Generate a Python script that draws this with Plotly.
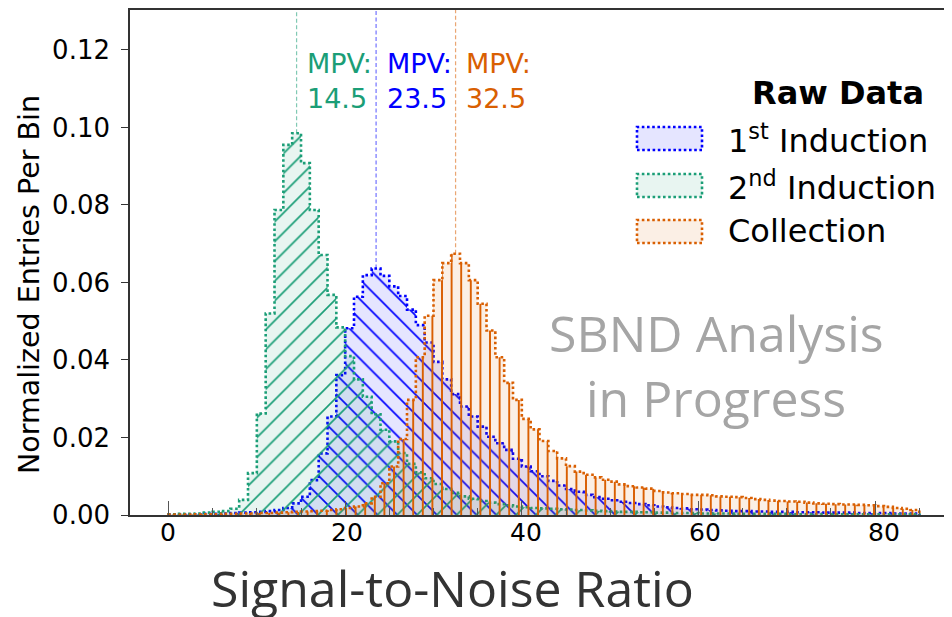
import plotly.graph_objects as go

# ---------------- data ----------------
bin_edges = list(range(0, 86))  # unit-width bins, 0..85

first_induction = [
    0.0001, 0.0001, 0.0002, 0.0002, 0.0003, 0.0003, 0.0004, 0.0005, 0.0006, 0.0007,
    0.0008, 0.0010, 0.0013, 0.0018, 0.0030, 0.0047, 0.0090, 0.0159, 0.0254, 0.0361,
    0.0482, 0.0563, 0.0619, 0.0636, 0.0617, 0.0590, 0.0565, 0.0530, 0.0490, 0.0445,
    0.0395, 0.0350, 0.0312, 0.0280, 0.0254, 0.0228, 0.0202, 0.0185, 0.0168, 0.0145,
    0.0125, 0.0113, 0.0100, 0.0088, 0.0076, 0.0067, 0.0060, 0.0052, 0.0046, 0.0042,
    0.0038, 0.0034, 0.0031, 0.0028, 0.0025, 0.0022, 0.0020, 0.0018, 0.0017, 0.0015,
    0.0014, 0.0013, 0.0012, 0.0011, 0.0010, 0.0010, 0.0009, 0.0009, 0.0008, 0.0008,
    0.0008, 0.0007, 0.0007, 0.0007, 0.0006, 0.0006, 0.0006, 0.0006, 0.0005, 0.0005,
    0.0005, 0.0005, 0.0004, 0.0004, 0.0004,
]

second_induction = [
    0.0002, 0.0003, 0.0003, 0.0004, 0.0006, 0.0008, 0.0010, 0.0016, 0.0039, 0.0108,
    0.0262, 0.0520, 0.0787, 0.0955, 0.0985, 0.0908, 0.0787, 0.0671, 0.0568, 0.0484,
    0.0410, 0.0350, 0.0305, 0.0260, 0.0220, 0.0190, 0.0160, 0.0132, 0.0110, 0.0095,
    0.0080, 0.0067, 0.0057, 0.0048, 0.0042, 0.0036, 0.0032, 0.0028, 0.0025, 0.0022,
    0.0020, 0.0018, 0.0017, 0.0016, 0.0015, 0.0014, 0.0013, 0.0012, 0.0011, 0.0010,
    0.0009, 0.0008, 0.0008, 0.0007, 0.0007, 0.0006, 0.0006, 0.0005, 0.0005, 0.0005,
    0.0004, 0.0004, 0.0004, 0.0004, 0.0003, 0.0003, 0.0003, 0.0003, 0.0003, 0.0003,
    0.0002, 0.0002, 0.0002, 0.0002, 0.0002, 0.0002, 0.0002, 0.0002, 0.0002, 0.0002,
    0.0002, 0.0002, 0.0002, 0.0002, 0.0002,
]

collection = [
    0.0001, 0.0001, 0.0001, 0.0002, 0.0002, 0.0002, 0.0003, 0.0003, 0.0004, 0.0004,
    0.0005, 0.0005, 0.0006, 0.0007, 0.0008, 0.0009, 0.0010, 0.0011, 0.0013, 0.0015,
    0.0018, 0.0022, 0.0030, 0.0047, 0.0082, 0.0125, 0.0196, 0.0297, 0.0407, 0.0514,
    0.0606, 0.0650, 0.0674, 0.0650, 0.0606, 0.0545, 0.0476, 0.0407, 0.0341, 0.0297,
    0.0248, 0.0221, 0.0191, 0.0165, 0.0146, 0.0126, 0.0112, 0.0104, 0.0097, 0.0091,
    0.0086, 0.0079, 0.0074, 0.0071, 0.0068, 0.0062, 0.0058, 0.0056, 0.0054, 0.0052,
    0.0052, 0.0051, 0.0048, 0.0047, 0.0046, 0.0044, 0.0041, 0.0039, 0.0037, 0.0036,
    0.0035, 0.0034, 0.0032, 0.0030, 0.0029, 0.0028, 0.0027, 0.0027, 0.0026, 0.0025,
    0.0023, 0.0021, 0.0018, 0.0016, 0.0013,
]

series_names = ["1<sup>st</sup> Induction", "2<sup>nd</sup> Induction", "Collection"]
series_values = [first_induction, second_induction, collection]
mpv_values = [23.5, 14.5, 32.5]
mpv_labels = ["MPV:<br>23.5", "MPV:<br>14.5", "MPV:<br>32.5"]
legend_title = "<b>Raw Data</b>"
x_tick_vals = [0, 20, 40, 60, 80]
y_tick_vals = [0.00, 0.02, 0.04, 0.06, 0.08, 0.10, 0.12]
x_title = "Signal-to-Noise Ratio"
y_title = "Normalized Entries Per Bin"
watermark = ["SBND Analysis", "in Progress"]

# ---------------- styles ----------------
line_colors = ["#0000ff", "#1b9e77", "#d95f02"]
fill_colors = ["rgba(0,0,255,0.10)", "rgba(27,158,119,0.10)", "rgba(217,95,2,0.10)"]
hatch = [
    dict(shape="\\", size=14, solidity=0.12),
    dict(shape="/", size=14, solidity=0.12),
    dict(shape="|", size=9.6, solidity=0.2),
]
draw_order = [0, 1, 2]

# page body adds an 8px offset; work in reference-pixel coordinates
OFF = 8
W, H = 952 - OFF, 617 - OFF
ML, MR, MT, MB = 130 - OFF, 0, 10 - OFF, 617 - 515
X_RANGE = [-4.36, 88.7]          # data axis (histogram scale)
X_LABEL_RANGE = [-4.246, 87.6]   # tick-label axis
Y_RANGE = [0, 0.1303]


def px_x(px):
    return (px - OFF - ML) / (W - ML - MR)


def px_y(py):
    return (H - MB - (py - OFF)) / (H - MT - MB)


fig = go.Figure()

for i in draw_order:
    vals = series_values[i]
    xs = [bin_edges[0]] + bin_edges[:-1] + [bin_edges[-1]]
    ys = [0] + vals + [0]
    fig.add_trace(go.Scatter(
        x=xs, y=ys, mode="lines", line_shape="hv",
        line=dict(color=line_colors[i], width=2.6, dash="2.6px,2.6px"),
        fill="tozeroy", fillcolor="rgba(0,0,0,0)",
        fillpattern=dict(shape=hatch[i]["shape"], size=hatch[i]["size"],
                         solidity=hatch[i]["solidity"], fgcolor=line_colors[i],
                         bgcolor=fill_colors[i], fillmode="replace"),
        showlegend=False, hoverinfo="skip",
    ))

# MPV dashed markers
for i in range(3):
    peak = max(series_values[i])
    fig.add_trace(go.Scatter(
        x=[mpv_values[i], mpv_values[i]], y=[peak, Y_RANGE[1]], mode="lines",
        line=dict(color=line_colors[i], width=1.2, dash="4px,2.5px"),
        opacity=0.55, showlegend=False, hoverinfo="skip",
    ))
    fig.add_annotation(
        x=mpv_values[i] + 1.0, y=0.112, xref="x", yref="y",
        text=mpv_labels[i], showarrow=False, xanchor="left", yanchor="middle",
        align="left", font=dict(family="DejaVu Sans", size=27, color=line_colors[i]),
    )

# invisible trace that carries the tick-label axis
fig.add_trace(go.Scatter(x=x_tick_vals, y=[0] * len(x_tick_vals), xaxis="x2",
                         mode="markers", marker=dict(opacity=0), showlegend=False,
                         hoverinfo="skip"))

# Manual legend
fig.add_annotation(x=px_x(926), y=px_y(93), xref="paper", yref="paper",
                   text=legend_title, showarrow=False, xanchor="right", yanchor="middle",
                   font=dict(family="DejaVu Sans", size=32, color="black"))
box_tops = [127, 174, 220]
for k in range(3):
    top = box_tops[k]
    fig.add_shape(type="rect", xref="paper", yref="paper",
                  x0=px_x(637), x1=px_x(702), y0=px_y(top + 23), y1=px_y(top),
                  fillcolor=fill_colors[k],
                  line=dict(color=line_colors[k], width=2.6, dash="2.6px,2.6px"))
    fig.add_annotation(x=px_x(726), y=px_y(top + 11.5), xref="paper", yref="paper",
                       text=series_names[k], showarrow=False, xanchor="left",
                       yanchor="middle",
                       font=dict(family="DejaVu Sans", size=32, color="black"))

# watermark
for k, (txt, yc) in enumerate(zip(watermark, [333, 398])):
    fig.add_annotation(x=px_x(716), y=px_y(yc), xref="paper", yref="paper",
                       text=txt, showarrow=False, xanchor="center", yanchor="middle",
                       font=dict(family="Open Sans", size=50, color="#a5a5a5"))

# axis titles
fig.add_annotation(x=px_x(452), y=px_y(588), xref="paper", yref="paper",
                   text=x_title, showarrow=False, xanchor="center", yanchor="middle",
                   font=dict(family="Open Sans", size=50, color="#333333"))
fig.add_annotation(x=px_x(29), y=px_y(285), xref="paper", yref="paper",
                   text=y_title, showarrow=False, xanchor="center", yanchor="middle",
                   textangle=-90,
                   font=dict(family="DejaVu Sans", size=28.5, color="black"))

fig.update_layout(
    width=W, height=H, margin=dict(l=ML, r=MR, t=MT, b=MB, autoexpand=False),
    paper_bgcolor="white", plot_bgcolor="white",
    showlegend=False,
    font=dict(family="DejaVu Sans", color="black"),
    xaxis=dict(range=X_RANGE, showline=True, linecolor="#333333", linewidth=1.6,
               mirror=True, ticks="inside", ticklen=14, tickwidth=1.3,
               tickcolor="#555555", tickvals=x_tick_vals, automargin=False,
               showticklabels=False,
               minor=dict(ticks="inside", ticklen=7, dtick=5, tick0=0,
                          tickcolor="#555555", tickwidth=1.3),
               showgrid=False, zeroline=False),
    xaxis2=dict(range=X_LABEL_RANGE, overlaying="x", anchor="y", side="bottom",
                showline=False, ticks="", tickvals=x_tick_vals, automargin=False,
                showgrid=False, zeroline=False, ticklabelstandoff=0,
                tickfont=dict(family="DejaVu Sans", size=25, color="black")),
    yaxis=dict(range=Y_RANGE, showline=True, linecolor="#333333", linewidth=1.6,
               mirror=False, ticks="outside", ticklen=7, tickwidth=1.3,
               tickcolor="#333333", tickvals=y_tick_vals, tickformat=".2f",
               showgrid=False, zeroline=False, automargin=False,
               ticklabelstandoff=6,
               tickfont=dict(family="DejaVu Sans", size=26, color="black")),
)

fig.write_html("out.html")
